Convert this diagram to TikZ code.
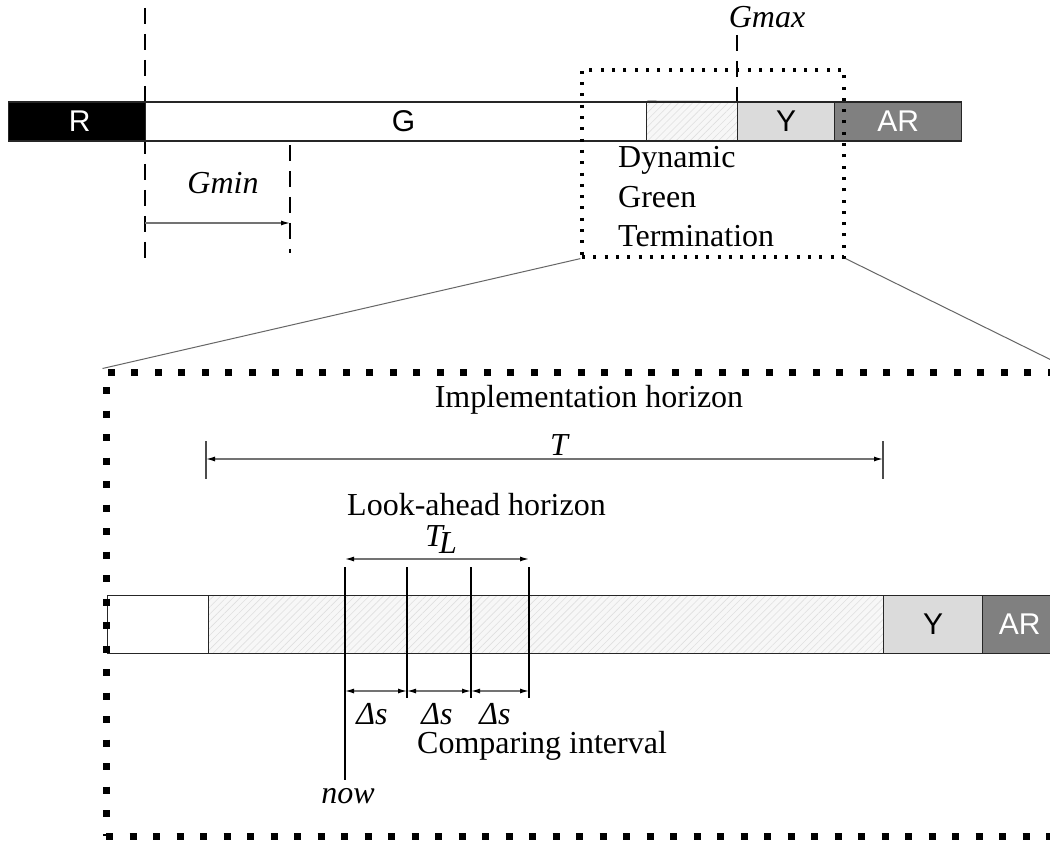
\documentclass[tikz,border=0pt]{standalone}
\usepackage{fontspec}
\setmainfont{Liberation Serif}
\newfontfamily\sanf{Liberation Sans}
\usetikzlibrary{patterns.meta,arrows.meta}
\tikzset{
  seg/.style={draw=black!85, line width=1.3pt, anchor=west, inner sep=0pt, font=\sanf\fontsize{30}{30}\selectfont},
  topseg/.style={seg, minimum height=39pt},
  botseg/.style={seg, minimum height=58pt},
  hatch/.style={preaction={fill=gray!6}, pattern={Lines[angle=45,distance=5pt,line width=0.6pt]}, pattern color=gray!25},
  yel/.style={fill=gray!28},
  amb/.style={fill=black!50, text=white},
  lbl/.style={inner sep=0pt, font=\fontsize{32}{38}\selectfont},
  ilbl/.style={inner sep=0pt, font=\fontsize{32}{38}\selectfont\itshape},
  dashline/.style={line width=1.6pt, dash pattern=on 16pt off 10pt},
  dimline/.style={draw=black!55, line width=1.3pt},
  dimtip/.style={dimline, {Latex[length=9pt,width=5pt,color=black]}-{Latex[length=9pt,width=5pt,color=black]}},
  rtip/.style={dimline, -{Latex[length=9pt,width=5pt,color=black]}},
  tick/.style={draw=black!70, line width=1.6pt},
  vline/.style={draw=black, line width=1.6pt},
  smalldots/.style={draw=black, line width=3.2pt, dash pattern=on 3pt off 8.3pt},
  bigdots/.style={draw=black, line width=7pt, dash pattern=on 7pt off 16.5pt},
  zoomline/.style={draw=black!60, line width=1pt}
}
\begin{document}
\begin{tikzpicture}[x=1pt,y=-1pt]
\path[use as bounding box, clip] (0,0) rectangle (1050,845);
\fill[white] (0,0) rectangle (1050,845);

% dashed markers (behind the bar)
\coordinate (d1t) at (145,8);
\coordinate (d1b) at (145,260);
\draw[dashline] (d1t) -- (d1b);
\coordinate (d2t) at (290,145);
\coordinate (d2b) at (290,253);
\draw[dashline] (d2t) -- (d2b);
\coordinate (gmt) at (737,35);
\coordinate (gmb) at (737,102);
\draw[dashline] (gmt) -- (gmb);

% top bar
\node[topseg, fill=black, text=white, minimum width=137pt] (R) at (8,121.5) {\hspace*{5pt}R};
\node[topseg, fill=white, minimum width=501pt] (G) at (145,121.5) {\hspace*{15pt}G};
\node[topseg, hatch, minimum width=91pt] (H1) at (646,121.5) {};
\node[topseg, yel, minimum width=97pt] (Y1) at (737,121.5) {Y};
\node[topseg, amb, minimum width=127pt] (AR1) at (834,121.5) {AR};
\coordinate (gext) at (762,102);
\draw[draw=black!85, line width=1.3pt] (G.north east) -- (gext);

% Gmin / Gmax
\coordinate (gminL) at (145,223);
\coordinate (gminR) at (290,223);
\draw[rtip] (gminL) -- (gminR);
\node[ilbl, anchor=base] (gminlbl) at (223,194) {Gmin};
\node[ilbl, anchor=base] (gmaxlbl) at (767,28) {Gmax};

% Dynamic green termination
\node[lbl, anchor=base west] (dyn1) at (618,168) {Dynamic};
\node[lbl, anchor=base west] (dyn2) at (618,208) {Green};
\node[lbl, anchor=base west] (dyn3) at (618,247) {Termination};

% small dotted box
\node[smalldots, minimum width=262pt, minimum height=187pt, inner sep=0pt] (zbox) at (713,163.5) {};

% bottom bar
\node[botseg, fill=white, minimum width=101pt] (W2) at (107,624.5) {};
\node[botseg, hatch, minimum width=675pt] (H2) at (208,624.5) {};
\node[botseg, yel, minimum width=99pt] (Y2) at (883,624.5) {Y};
\node[botseg, amb, minimum width=74pt] (AR2) at (982,624.5) {AR};

% big dotted box
\node[bigdots, minimum width=959pt, minimum height=464pt, inner sep=0pt] (big) at (585.5,604) {};

% zoom lines
\draw[zoomline] (zbox.south west) -- (big.north west);
\draw[zoomline] (zbox.south east) -- (big.north east);

% implementation horizon
\coordinate (tL1) at (206,441);
\coordinate (tL2) at (206,479);
\coordinate (tR1) at (883,441);
\coordinate (tR2) at (883,479);
\draw[tick] (tL1) -- (tL2);
\draw[tick] (tR1) -- (tR2);
\coordinate (iL) at (206,459);
\coordinate (iR) at (883,459);
\draw[dimtip] (iL) -- (iR);
\node[lbl, anchor=base] (impl) at (589,407) {Implementation horizon};
\node[ilbl, anchor=base] (Tlbl) at (559,455) {T};

% look-ahead horizon
\node[lbl, anchor=base west] (look) at (347,515) {Look-ahead horizon};
\node[ilbl, anchor=base] (TLlbl) at (441,546) {T\kern-0.12em\raisebox{-0.22em}{L}};
\coordinate (v1t) at (345,567); \coordinate (v1b) at (345,780);
\coordinate (v2t) at (407,567); \coordinate (v2b) at (407,698);
\coordinate (v3t) at (471,567); \coordinate (v3b) at (471,698);
\coordinate (v4t) at (529,567); \coordinate (v4b) at (529,698);
\draw[vline] (v1t) -- (v1b);
\draw[vline] (v2t) -- (v2b);
\draw[vline] (v3t) -- (v3b);
\draw[vline] (v4t) -- (v4b);
\coordinate (lL) at (345,559);
\coordinate (lR) at (529,559);
\draw[dimtip] (lL) -- (lR);

% comparing intervals
\coordinate (s1) at (345,691);
\coordinate (s2) at (407,691);
\coordinate (s3) at (471,691);
\coordinate (s4) at (529,691);
\draw[dimtip] (s1) -- (s2);
\draw[dimtip] (s2) -- (s3);
\draw[dimtip] (s3) -- (s4);
\node[ilbl, anchor=base] (ds1) at (372,724) {Δs};
\node[ilbl, anchor=base] (ds2) at (437,724) {Δs};
\node[ilbl, anchor=base] (ds3) at (495,724) {Δs};
\node[lbl, anchor=base west] (comp) at (417,753) {Comparing interval};
\node[ilbl, anchor=base] (now) at (348,803) {now};
\end{tikzpicture}
\end{document}
